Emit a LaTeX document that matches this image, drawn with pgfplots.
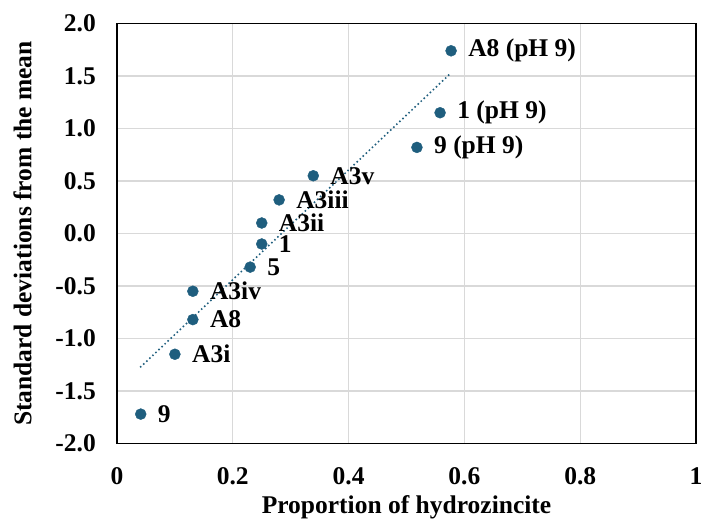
\documentclass[border=0pt]{standalone}
\usepackage{pgfplots}
\usepackage{pgfplotstable}
\usepackage{fontspec}
\setmainfont{Liberation Serif}
\pgfplotsset{compat=1.18}
\definecolor{mk}{RGB}{31,94,126}
\definecolor{gridc}{RGB}{217,217,217}
\pgfplotstableread[col sep=comma]{
x,y,label
0.577,1.74,A8 (pH 9)
0.558,1.15,1 (pH 9)
0.518,0.82,9 (pH 9)
0.339,0.55,A3v
0.280,0.32,A3iii
0.250,0.10,A3ii
0.250,-0.10,1
0.230,-0.32,5
0.131,-0.55,A3iv
0.131,-0.82,A8
0.100,-1.15,A3i
0.041,-1.72,9
}\data
\newcommand{\chartfont}{\fontsize{25.5bp}{30bp}\selectfont\bfseries}
\begin{document}
\begin{tikzpicture}
\useasboundingbox (0,0) rectangle (702bp,525bp);
\begin{axis}[
  at={(117bp,81.5bp)}, anchor=south west,
  scale only axis, width=579bp, height=420bp,
  xmin=0, xmax=1, ymin=-2, ymax=2,
  xtick={0,0.2,0.4,0.6,0.8,1},
  ytick={-2,-1.5,-1,-0.5,0,0.5,1,1.5,2},
  major tick length=0pt,
  grid=major,
  grid style={gridc, line width=1.3bp},
  axis line style={black, line width=1.4bp},
  /pgf/number format/assume math mode=true,
  yticklabel style={/pgf/number format/fixed, /pgf/number format/fixed zerofill, /pgf/number format/precision=1, inner sep=0pt, anchor=east, xshift=-21bp},
  xticklabel style={inner sep=0pt, anchor=north, yshift=-23.5bp},
  ticklabel style={font=\chartfont},
  label style={font=\chartfont},
  xlabel={Proportion of hydrozincite},
  ylabel={Standard deviations from the mean},
  xlabel style={at={(axis description cs:0.5,-0.151)}, anchor=center, inner sep=0pt},
  ylabel style={at={(axis description cs:-0.163,0.5)}, anchor=center, inner sep=0pt},
  clip=false,
]
\addplot[mk, line width=2.2bp, line cap=round, dash pattern=on 0pt off 4.2bp] coordinates {(0.041,-1.27) (0.577,1.53)};
\addplot[only marks, mark=*, mark size=5.5bp, mk, mark options={fill=mk, draw=mk},
  nodes near coords, point meta=explicit symbolic,
  every node near coord/.style={anchor=west, inner sep=0pt, xshift=17bp, black, font=\chartfont}]
  table[x=x, y=y, meta=label]{\data};
\end{axis}
\end{tikzpicture}
\end{document}
